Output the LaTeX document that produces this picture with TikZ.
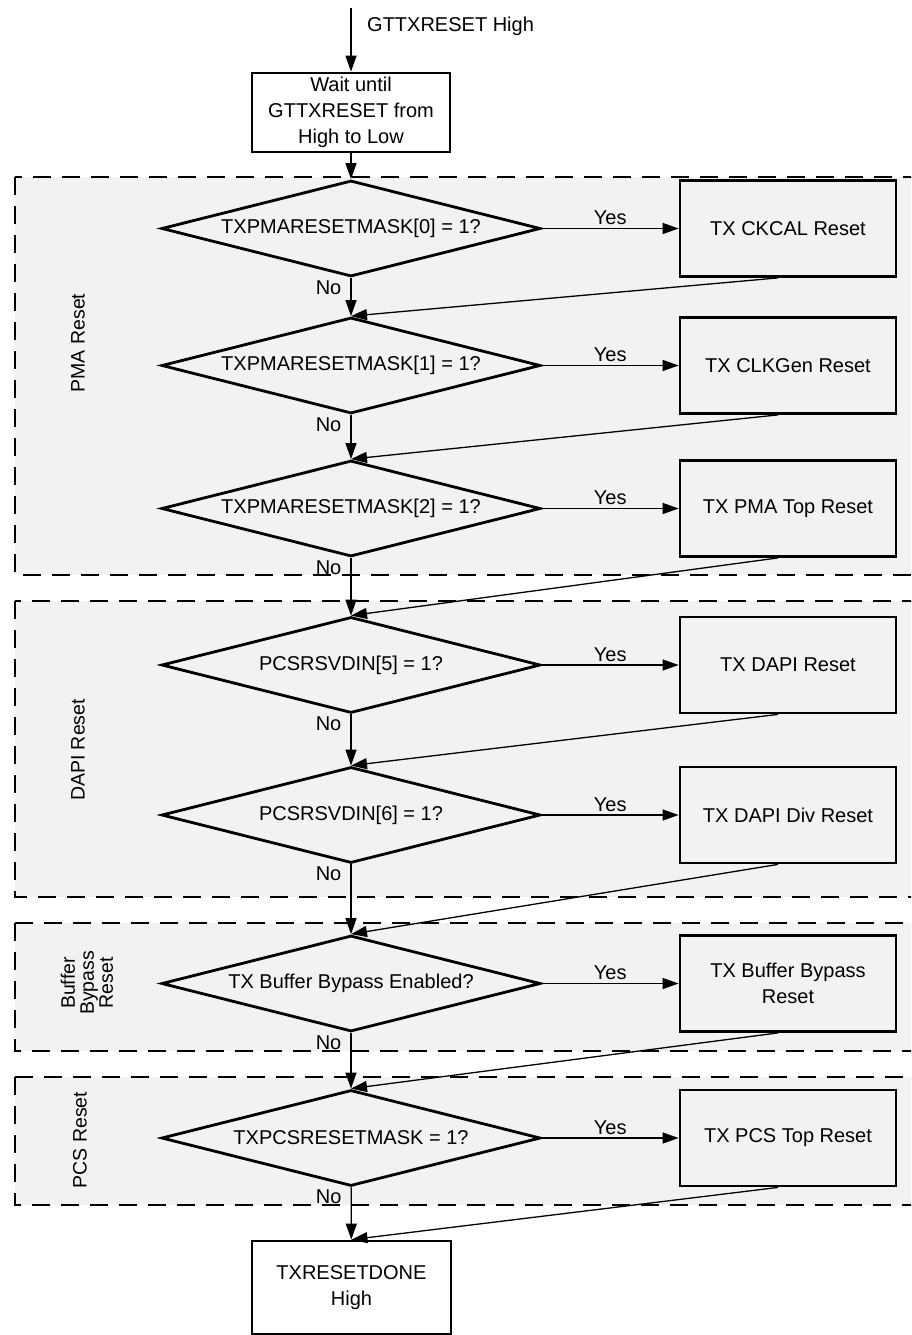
\documentclass[tikz,border=0pt]{standalone}
\usepackage{fontspec}
\setmainfont{Liberation Sans}
\usetikzlibrary{shapes.geometric,arrows.meta}
\definecolor{regionfill}{HTML}{F2F2F2}
\begin{document}
\begin{tikzpicture}[x=1pt,y=-1pt,
  every node/.style={font=\fontsize{20}{26}\selectfont},
  region/.style={fill=regionfill, draw=black, line width=2.6pt, dash pattern=on 18pt off 11pt},
  decision/.style={diamond, draw, line width=2.8pt, minimum width=379pt, minimum height=96pt,
                   inner sep=0pt, aspect=4, align=center},
  process/.style={rectangle, draw, line width=2.8pt, minimum width=216pt, minimum height=96pt,
                  align=center, inner sep=2pt},
  flow/.style={line width=1.3pt, -{Triangle[length=16pt,width=11pt]}},
  yeslbl/.style={above, inner sep=3pt},
  nolbl/.style={anchor=north east, inner sep=0pt, xshift=-9pt, yshift=-2pt},
  grouplbl/.style={rotate=90, font=\fontsize{19.5}{19}\selectfont, align=center, inner sep=0pt},
]
\useasboundingbox (0,0) rectangle (911,1335);
\clip (0,0) rectangle (911,1335);

% reset groups (open to the right)
\draw[region] (15,177) rectangle (940,575);
\draw[region] (15,601) rectangle (940,897);
\draw[region] (15,923) rectangle (940,1051);
\draw[region] (15,1077) rectangle (940,1205);

\node[grouplbl] (pmalbl) at (78,343) {PMA Reset};
\node[grouplbl] (dapilbl) at (78,750) {DAPI Reset};
\node[grouplbl] (buflbl) at (87,983) {Buffer\\Bypass\\Reset};
\node[grouplbl] (pcslbl) at (80,1140) {PCS Reset};

% entry
\coordinate (start) at (351,8);
\node[anchor=base west, inner sep=0pt] (startlbl) at (367,32) {GTTXRESET High};
\node[process, minimum width=198pt, minimum height=79pt] (wait) at (351,112.5)
  {Wait until\\GTTXRESET from\\High to Low};

% decisions and reset steps
\node[decision] (d1) at (351,228.5) {TXPMARESETMASK[0] = 1?};
\node[process]  (b1) at (788,228.5) {TX CKCAL Reset};
\node[decision] (d2) at (351,365.5) {TXPMARESETMASK[1] = 1?};
\node[process]  (b2) at (788,365.5) {TX CLKGen Reset};
\node[decision] (d3) at (351,508.5) {TXPMARESETMASK[2] = 1?};
\node[process]  (b3) at (788,508.5) {TX PMA Top Reset};
\node[decision] (d4) at (351,665) {PCSRSVDIN[5] = 1?};
\node[process]  (b4) at (788,665) {TX DAPI Reset};
\node[decision] (d5) at (351,815) {PCSRSVDIN[6] = 1?};
\node[process]  (b5) at (788,815) {TX DAPI Div Reset};
\node[decision] (d6) at (351,983.5) {TX Buffer Bypass Enabled?};
\node[process]  (b6) at (788,983.5) {TX Buffer Bypass\\Reset};
\node[decision] (d7) at (351,1138) {TXPCSRESETMASK = 1?};
\node[process]  (b7) at (788,1138) {TX PCS Top Reset};
\node[process, minimum width=199pt, minimum height=93pt] (done) at (351.5,1287.5)
  {TXRESETDONE\\High};

% connectors
\draw[flow] (start) -- (wait);
\draw[flow] (wait) -- (d1);

\draw[flow] (d1) -- node[yeslbl] (y1) {Yes} (b1);
\draw[flow] (d2) -- node[yeslbl] (y2) {Yes} (b2);
\draw[flow] (d3) -- node[yeslbl] (y3) {Yes} (b3);
\draw[flow] (d4) -- node[yeslbl] (y4) {Yes} (b4);
\draw[flow] (d5) -- node[yeslbl] (y5) {Yes} (b5);
\draw[flow] (d6) -- node[yeslbl] (y6) {Yes} (b6);
\draw[flow] (d7) -- node[yeslbl] (y7) {Yes} (b7);

\draw[flow] (d1) -- node[pos=0, nolbl] (n1) {No} (d2);
\draw[flow] (d2) -- node[pos=0, nolbl] (n2) {No} (d3);
\draw[flow] (d3) -- node[pos=0, nolbl] (n3) {No} (d4);
\draw[flow] (d4) -- node[pos=0, nolbl] (n4) {No} (d5);
\draw[flow] (d5) -- node[pos=0, nolbl] (n5) {No} (d6);
\draw[flow] (d6) -- node[pos=0, nolbl] (n6) {No} (d7);
\draw[flow] (d7) -- node[pos=0, nolbl] (n7) {No} (done);

\draw[flow] ([xshift=-10pt]b1.south) -- (d2.north);
\draw[flow] ([xshift=-10pt]b2.south) -- (d3.north);
\draw[flow] ([xshift=-10pt]b3.south) -- (d4.north);
\draw[flow] ([xshift=-10pt]b4.south) -- (d5.north);
\draw[flow] ([xshift=-10pt]b5.south) -- (d6.north);
\draw[flow] ([xshift=-10pt]b6.south) -- (d7.north);
\draw[flow] ([xshift=-10pt]b7.south) -- (done.north);
\end{tikzpicture}
\end{document}
